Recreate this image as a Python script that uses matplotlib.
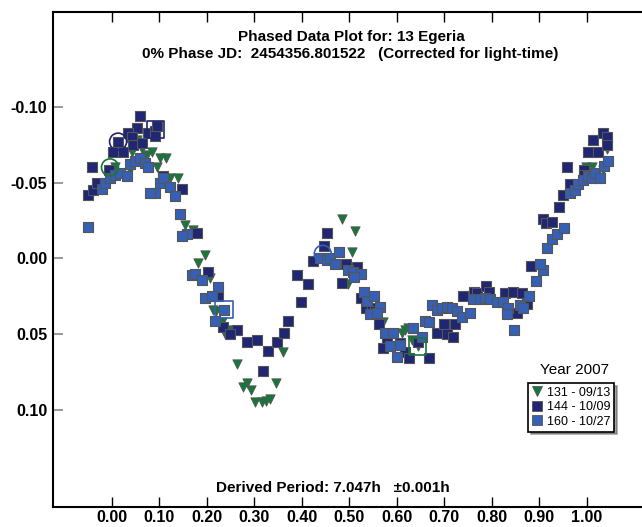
import matplotlib
matplotlib.use("Agg")
import matplotlib.pyplot as plt
from matplotlib.lines import Line2D

plt.rcParams['font.family'] = ['Liberation Sans', 'DejaVu Sans']
plt.rcParams['axes.unicode_minus'] = False

# session 131 - 09/13 (green triangles)
p131 = [-0.004, 0.006, 0.038, 0.042, 0.063, 0.053, 0.074, 0.084, 0.101, 0.114, 0.095, 0.122,
        0.139, 0.154, 0.171, 0.196, 0.181, 0.206, 0.213, 0.219, 0.232, 0.248, 0.238, 0.263,
        0.284, 0.276, 0.293, 0.345, 0.360, 0.301, 0.316, 0.324, 0.333, 0.484, 0.512, 0.505,
        0.497, 0.571, 0.611, 0.617, 0.623, 0.632, 0.644, 0.998, 1.011, 1.034, 1.042]
m131 = [-0.058, -0.060, -0.058, -0.070, -0.072, -0.078, -0.068, -0.070, -0.066, -0.066, -0.060, -0.053,
        -0.053, -0.022, -0.019, -0.002, 0.003, 0.013, 0.034, 0.035, 0.042, 0.047, 0.050, 0.070,
        0.082, 0.085, 0.087, 0.082, 0.062, 0.095, 0.095, 0.094, 0.093, -0.026, -0.018, -0.004,
        0.017, 0.042, 0.049, 0.047, 0.046, 0.054, 0.058, -0.060, -0.060, -0.058, -0.072]

# session 144 - 10/09 (dark blue squares)
p144 = [0.059, 0.053, 0.034, 0.042, 0.013, 0.002, 0.023, 0.044, 0.063, 0.076, 0.091, 0.091,
        0.095, -0.042, -0.051, -0.040, -0.032, -0.006, 0.147, 0.107, 0.179, 0.202, 0.223, 0.234,
        0.263, 0.248, 0.284, 0.305, 0.328, 0.347, 0.362, 0.371, 0.398, 0.413, 0.389, 0.318,
        0.423, 0.446, 0.453, 0.493, 0.516, 0.484, 0.524, 0.535, 0.547, 0.554, 0.562, 0.579,
        0.606, 0.571, 0.617, 0.625, 0.644, 0.667, 0.684, 0.699, 0.705, 0.718, 0.722, 0.739,
        0.762, 0.768, 0.787, 0.794, 0.827, 0.844, 0.863, 0.832, 0.853, 0.874, 0.882, 0.907,
        0.914, 0.926, 0.941, 0.949, 0.964, 0.958, 0.994, 0.994, 1.002, 1.023, 1.013, 1.034,
        1.042, 1.042]
m144 = [-0.094, -0.086, -0.083, -0.080, -0.077, -0.070, -0.070, -0.075, -0.076, -0.083, -0.084, -0.081,
        -0.087, -0.060, -0.042, -0.045, -0.050, -0.058, -0.046, -0.054, -0.017, 0.009, 0.025, 0.045,
        0.047, 0.050, 0.055, 0.054, 0.061, 0.055, 0.049, 0.041, 0.029, 0.017, 0.011, 0.074,
        0.002, -0.008, -0.017, 0.004, 0.006, 0.016, 0.026, 0.033, 0.033, 0.035, 0.043, 0.053,
        0.056, 0.059, 0.062, 0.066, 0.055, 0.066, 0.049, 0.043, 0.050, 0.052, 0.043, 0.025,
        0.022, 0.023, 0.018, 0.022, 0.023, 0.022, 0.023, 0.034, 0.036, 0.030, 0.005, -0.026,
        -0.023, -0.024, -0.034, -0.042, -0.049, -0.060, -0.058, -0.055, -0.070, -0.070, -0.078, -0.083,
        -0.080, -0.075]

# session 160 - 10/27 (blue squares)
p160 = [-0.021, -0.015, -0.004, 0.006, 0.017, 0.032, 0.038, 0.048, 0.059, 0.069, 0.076, 0.101,
        0.107, 0.122, 0.133, 0.091, 0.080, 0.143, -0.051, 0.158, 0.147, 0.168, 0.175, 0.189,
        0.223, 0.196, 0.211, 0.236, 0.217, 0.438, 0.453, 0.459, 0.478, 0.469, 0.497, 0.507,
        0.524, 0.509, 0.531, 0.537, 0.552, 0.564, 0.543, 0.558, 0.575, 0.592, 0.634, 0.653,
        0.585, 0.606, 0.600, 0.659, 0.667, 0.674, 0.684, 0.695, 0.705, 0.716, 0.726, 0.737,
        0.754, 0.760, 0.775, 0.785, 0.796, 0.811, 0.823, 0.834, 0.832, 0.859, 0.865, 0.878,
        0.846, 0.893, 0.907, 0.901, 0.916, 0.926, 0.937, 0.952, 0.964, 0.975, 0.981, 0.992,
        1.002, 1.011, 1.017, 1.027, 1.036, 1.044]
m160 = [-0.046, -0.050, -0.053, -0.055, -0.056, -0.054, -0.062, -0.064, -0.066, -0.063, -0.060, -0.050,
        -0.053, -0.047, -0.041, -0.043, -0.043, -0.029, -0.021, -0.016, -0.015, 0.011, 0.010, 0.014,
        0.019, 0.026, 0.025, 0.034, 0.041, 0.000, 0.001, 0.000, -0.004, 0.004, 0.008, 0.009,
        0.010, 0.012, 0.022, 0.028, 0.025, 0.032, 0.037, 0.036, 0.049, 0.049, 0.046, 0.052,
        0.058, 0.057, 0.065, 0.041, 0.042, 0.031, 0.034, 0.033, 0.032, 0.033, 0.035, 0.039,
        0.036, 0.027, 0.027, 0.026, 0.027, 0.029, 0.029, 0.033, 0.037, 0.031, 0.033, 0.025,
        0.047, 0.015, 0.008, 0.004, -0.007, -0.013, -0.016, -0.020, -0.043, -0.045, -0.049, -0.052,
        -0.054, -0.053, -0.056, -0.053, -0.061, -0.064]

# first point of each night, drawn with an open marker
first_p = [0.013, -0.004, 0.091, 0.236, 0.444, 0.644]
first_m = [-0.077, -0.060, -0.085, 0.034, -0.003, 0.058]
first_style = ['o', 'o', 's', 's', 'o', 's']
first_sess = ['144', '131', '144', '160', '160', '131']

colors = {'131': '#16773a', '144': '#1f2673', '160': '#3560b5'}
labels = {'131': '131 - 09/13', '144': '144 - 10/09', '160': '160 - 10/27'}

xticks = [0.0, 0.1, 0.2, 0.3, 0.4, 0.5, 0.6, 0.7, 0.8, 0.9, 1.0]
yticks = [-0.10, -0.05, 0.00, 0.05, 0.10]

fig = plt.figure(figsize=(6.42, 5.27), dpi=100)
ax = fig.add_axes([53 / 642, 20 / 527, 1 - 53 / 642, 495 / 527])

edge = '#555555'
ax.scatter(p131, m131, marker='v', s=45, c=colors['131'], edgecolors=edge, linewidths=0.6, zorder=3)
ax.scatter(p144, m144, marker='s', s=42, c=colors['144'], edgecolors=edge, linewidths=0.8, zorder=3)
ax.scatter(p160, m160, marker='s', s=42, c=colors['160'], edgecolors=edge, linewidths=0.8, zorder=3)

for x, y, mk, sess in zip(first_p, first_m, first_style, first_sess):
    ax.scatter([x], [y], marker=mk, s=150, facecolors='none', edgecolors=colors[sess],
               linewidths=1.2, zorder=4)

ax.set_xlim(-0.124, 1.116)
ax.set_ylim(0.164, -0.1625)
ax.set_xticks(xticks)
ax.set_yticks(yticks)
ax.set_xticklabels([f"{v:.2f}" for v in xticks], fontsize=11.5, fontweight='bold')
ax.set_yticklabels([f"{v:.2f}" for v in yticks], fontsize=11.5, fontweight='bold')
ax.tick_params(axis='x', direction='in', length=7, width=1, top=True, pad=2, color='black')
ax.tick_params(axis='y', direction='in', length=7, width=1.2, pad=4, color='#888888')
ax.spines['right'].set_visible(False)
for s in ['left', 'bottom', 'top']:
    ax.spines[s].set_linewidth(1.5)

fig.text(351 / 642, 1 - 37 / 527, 'Phased Data Plot for: 13 Egeria', ha='center', va='center',
         fontsize=11, fontweight='bold')
fig.text(350 / 642, 1 - 54 / 527, '0% Phase JD:  2454356.801522   (Corrected for light-time)',
         ha='center', va='center', fontsize=11, fontweight='bold')
fig.text(333 / 642, 1 - 488 / 527, 'Derived Period: 7.047h   \u00b10.001h', ha='center', va='center',
         fontsize=11, fontweight='bold')

handles = [Line2D([], [], ls='none', marker='v', ms=7, mfc=colors['131'], mec=edge, mew=0.6),
           Line2D([], [], ls='none', marker='s', ms=6.5, mfc=colors['144'], mec=edge, mew=0.6),
           Line2D([], [], ls='none', marker='s', ms=6.5, mfc=colors['160'], mec=edge, mew=0.6)]
leg = ax.legend(handles, [labels['131'], labels['144'], labels['160']], loc='upper left',
                bbox_to_anchor=(528 / 642, 1 - 383 / 527), bbox_transform=fig.transFigure,
                fontsize=9, frameon=True, fancybox=False, shadow=True, framealpha=1,
                edgecolor='black', handlelength=0.8, handletextpad=0.4, labelspacing=0.2,
                borderpad=0.3, borderaxespad=0)
leg.get_frame().set_linewidth(1.2)
fig.text(574 / 642, 1 - 370 / 527, 'Year 2007', ha='center', va='center', fontsize=11)

fig.savefig('out.png', dpi=100)
